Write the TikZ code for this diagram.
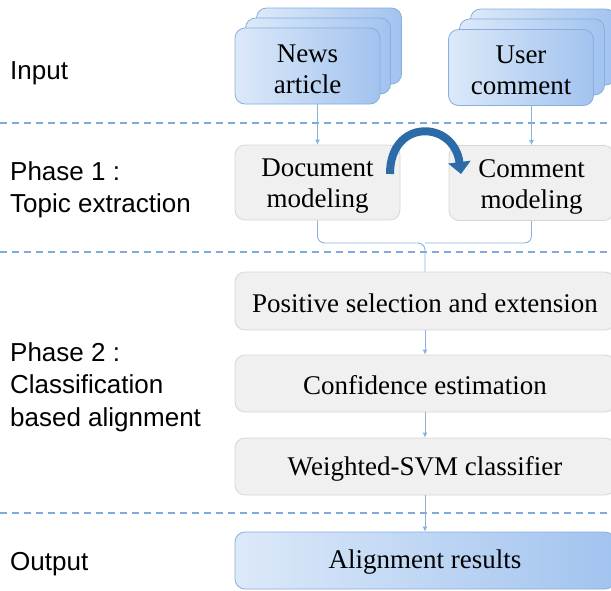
\documentclass[tikz,border=0pt]{standalone}
\usepackage{fontspec}
\setmainfont{Liberation Serif}
\newfontfamily\labelfont{Liberation Sans}
\usetikzlibrary{arrows.meta,calc}

\definecolor{boxblueL}{HTML}{DCE9F9}
\definecolor{boxblueR}{HTML}{A2C3EF}
\definecolor{boxblueEdge}{HTML}{86AEDF}
\definecolor{greyfill}{HTML}{F0F0F0}
\definecolor{greyedge}{HTML}{D6D6D6}
\definecolor{dashblue}{HTML}{7FAADD}
\definecolor{linkblue}{HTML}{86B2E4}
\definecolor{bigarrow}{HTML}{2D6AA8}

\tikzset{
  bluebox/.style={draw=boxblueEdge, line width=0.8pt, rounded corners=10pt,
    left color=boxblueL, right color=boxblueR, inner sep=0pt},
  greybox/.style={draw=greyedge, line width=0.8pt, rounded corners=10pt,
    fill=greyfill, inner sep=0pt},
  boxtext/.style={align=center, inner sep=0pt, font=\fontsize{27}{31}\selectfont},
  phaselabel/.style={anchor=west, align=left, inner sep=0pt,
    font=\labelfont\fontsize{26}{32.5}\selectfont},
  divider/.style={draw=dashblue, line width=1.3pt, dash pattern=on 7pt off 5pt},
  link/.style={draw=linkblue, line width=0.9pt},
  linkarrow/.style={link, -{Latex[length=5pt,width=5pt]}},
}

\begin{document}
\begin{tikzpicture}[x=1pt,y=-1pt]
\useasboundingbox (0,0) rectangle (611,590);
\clip (0,0) rectangle (611,590);

% section dividers
\draw[divider] (0,123) -- (611,123);
\draw[divider] (0,252) -- (611,252);
\draw[divider] (0,513) -- (611,513);

% left-hand section labels
\node[phaselabel] (lInput) at (10,73) {Input};
\node[phaselabel] (lPhaseOne) at (10,190) {Phase 1 :\\Topic extraction};
\node[phaselabel] (lPhaseTwo) at (10,387) {Phase 2 :\\Classification\\based alignment};
\node[phaselabel] (lOutput) at (10,564) {Output};

% stacked input documents
\node[bluebox, minimum width=145pt, minimum height=76pt] (newsC) at (329,46) {};
\node[bluebox, minimum width=145pt, minimum height=76pt] (newsB) at (318,56) {};
\node[bluebox, minimum width=145pt, minimum height=76pt] (news) at (307.5,66) {};
\node[boxtext] (newsText) at (307.5,69) {News\\article};

\node[bluebox, minimum width=145pt, minimum height=76pt] (userC) at (543,47) {};
\node[bluebox, minimum width=145pt, minimum height=76pt] (userB) at (532,57) {};
\node[bluebox, minimum width=145pt, minimum height=76pt] (user) at (521,67.5) {};
\node[boxtext] (userText) at (521,70.5) {User\\comment};

% phase 1 boxes
\node[greybox, minimum width=165pt, minimum height=75pt] (doc) at (317.5,182.5) {};
\node[boxtext] (docText) at (317.5,186) {Document\\modeling};
\node[greybox, minimum width=165pt, minimum height=75pt] (com) at (531.5,183) {};
\node[boxtext] (comText) at (531.5,186.5) {Comment\\modeling};

% phase 2 boxes
\node[greybox, minimum width=380pt, minimum height=58pt] (pos) at (425,301) {};
\node[boxtext] (posText) at (425,303) {Positive selection and extension};
\node[greybox, minimum width=380pt, minimum height=57pt] (conf) at (425,383.5) {};
\node[boxtext] (confText) at (425,385.5) {Confidence estimation};
\node[greybox, minimum width=380pt, minimum height=57pt] (svm) at (425,466.5) {};
\node[boxtext] (svmText) at (425,468.5) {Weighted-SVM classifier};

% output
\node[bluebox, minimum width=380pt, minimum height=57pt] (out) at (425,560.5) {};
\node[boxtext] (outText) at (425,562.5) {Alignment results};

% input to phase 1
\draw[linkarrow] (news.south -| doc.north) -- (doc.north);
\draw[linkarrow] (user.south -| com.north) -- (com.north);

% merging bracket into phase 2
\coordinate (join) at (425,243);
\draw[link, rounded corners=7pt] (doc.south) |- (join) -- (pos.north);
\draw[link, rounded corners=7pt] (com.south) |- (join);

% phase 2 chain
\draw[linkarrow] (pos.south) -- (conf.north);
\draw[linkarrow] (conf.south) -- (svm.north);
\draw[linkarrow] (svm.south) -- (out.north);

% curved arrow from document model to comment model
\coordinate (arcStart) at (390,174);
\coordinate (arcEnd) at (461,174);
\draw[bigarrow, line width=8pt, -{Triangle[length=12pt,width=22pt]}]
  (arcStart) .. controls (390,118) and (454,120) .. (arcEnd);
\end{tikzpicture}
\end{document}
